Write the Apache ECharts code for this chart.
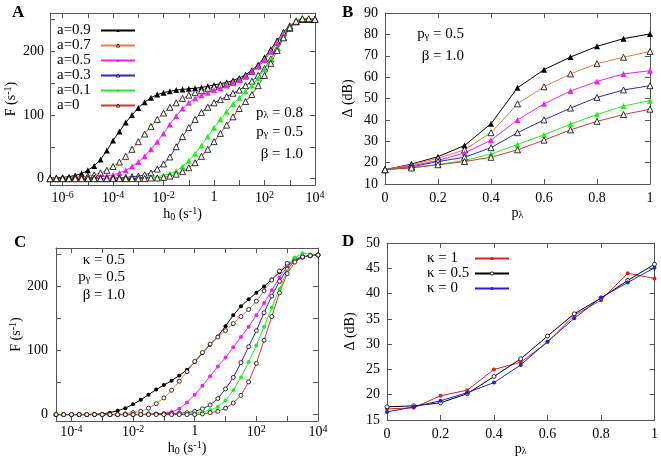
<!DOCTYPE html>
<html>
<head>
<meta charset="utf-8">
<script src="https://cdn.jsdelivr.net/npm/echarts@6/dist/echarts.min.js"></script>
<style>
  html, body { margin: 0; padding: 0; background: #fff; }
  #fig { width: 661px; height: 460px; }
</style>
</head>
<body>
<div id="fig"></div>
<script>
// panel A / C: x is log10(h0), steps of 0.25 decade
const hA = [-6.5,-6.25,-6,-5.75,-5.5,-5.25,-5,-4.75,-4.5,-4.25,-4,-3.75,-3.5,-3.25,-3,-2.75,-2.5,-2.25,-2,-1.75,-1.5,-1.25,-1,-0.75,-0.5,-0.25,0,0.25,0.5,0.75,1,1.25,1.5,1.75,2,2.25,2.5,2.75,3,3.25,3.5,3.75,4];
const fA09 = [1,1,2,3,5,8,13,20,30,44,60,74,88,100,111,120,127,132,135,137,139,140,141,142,143,145,147,149,151,154,158,163,170,179,190,203,217,230,240,247,250,250,250];
const fA07 = [0,0,1,1,2,3,4,6,9,13,19,26,35,46,58,70,82,93,103,112,119,126,131,135,138,141,144,147,149,152,156,161,168,177,188,201,215,229,240,247,250,250,250];
const fA05 = [0,0,0,0,0,1,1,2,3,4,6,9,13,19,26,35,46,58,71,85,98,110,119,126,131,135,139,142,146,150,155,161,168,176,186,199,213,227,239,247,250,250,250];
const fA03 = [0,0,0,0,0,0,0,0,0,0,1,1,2,3,4,6,9,15,23,34,50,66,80,93,104,112,119,124,129,134,139,146,153,162,173,188,205,222,236,246,250,250,250];
const fA01 = [0,0,0,0,0,0,0,0,0,0,0,0,0,0,1,1,2,3,5,8,12,19,28,39,52,66,80,93,105,117,127,137,146,158,172,188,206,224,239,249,252,251,250];
const fA00 = [0,0,0,0,0,0,0,0,0,0,0,0,0,0,0,0,1,1,2,4,7,11,17,25,35,46,58,71,84,97,110,121,132,146,162,181,201,221,237,247,251,251,250];

const hC = [-4.5,-4.25,-4,-3.75,-3.5,-3.25,-3,-2.75,-2.5,-2.25,-2,-1.75,-1.5,-1.25,-1,-0.75,-0.5,-0.25,0,0.25,0.5,0.75,1,1.25,1.5,1.75,2,2.25,2.5,2.75,3,3.25,3.5,3.75,4];
const fC09 = [0,0,0,0,0,1,1,3,6,10,16,23,31,39,46,53,61,70,82,96,109,122,138,155,169,180,190,200,211,222,233,241,246,248,249];
const fC07 = [0,0,0,0,0,0,0,0,0,1,3,5,10,17,26,38,52,67,83,97,110,121,131,142,153,164,177,193,210,224,236,243,246,248,249];
const fC05 = [0,0,0,0,0,0,0,0,0,0,0,0,0,1,2,4,9,19,31,45,60,75,89,105,121,137,155,174,194,214,231,242,247,248,249];
const fC03 = [0,0,0,0,0,0,0,0,0,0,0,0,1,1,1,2,2,3,5,9,15,25,40,58,81,106,131,159,185,208,227,240,246,248,249];
const fC01 = [0,0,0,0,0,0,0,0,0,0,0,0,0,0,0,0,1,1,2,4,7,12,22,38,58,82,108,137,167,196,224,245,252,250,249];
const fC00 = [0,0,0,0,0,0,0,0,0,0,0,0,0,0,0,0,0,0,0,1,3,5,10,18,30,51,80,116,153,190,220,238,246,248,249];

// panel B: Delta (dB) vs p_lambda
const pL = [0,0.1,0.2,0.3,0.4,0.5,0.6,0.7,0.8,0.9,1];
const dB09 = [16.7,19.3,22.8,28,38.2,55,63.5,69.4,74.4,78,80.2];
const dB07 = [16.7,19,22,26,34,47.5,55.5,61.5,66.3,69.3,72];
const dB05 = [16.7,18.5,21,24.5,30.5,40,47.5,53.5,58,61.5,63];
const dB03 = [16.7,18,20.5,22.5,27,34,40,45.5,50.5,54,56];
const dB01 = [16.7,17.8,19,21,24,28.5,33,38,42.5,46.5,49];
const dB00 = [16.7,17.5,19,20.5,22.5,26,30.5,35.3,39.3,42.5,45];

// panel D
const dDk1 = [17.2,17.4,19.8,20.9,25.0,26.4,30.4,35.7,38.7,44.0,43.0];
const dDk05 = [17.6,17.8,18.4,20.2,23.6,27.1,31.6,36.0,39.1,42.6,45.8];
const dDk0 = [16.6,17.6,18.8,20.4,22.4,25.9,30.5,35.1,39.2,42.2,45.1];

const logTicks = [-6,-5,-4,-3,-2,-1,0,1,2,3,4];
const logLabs = [-6,-4,-2,0,2,4];
const logTicksC = [-4,-3,-2,-1,0,1,2,3,4];
const logLabsC = [-4,-2,0,2,4];
const fTicks = [0,50,100,150,200,250];
const fLabs = [0,100,200];

const FONT = 'Liberation Serif';
const AX = '#555';
const RICH = {
    s: {fontSize: 10, fontFamily: FONT, color: '#000', verticalAlign: 'top', padding: [0, 0, 6, 0]},
    d: {fontSize: 10, fontFamily: FONT, color: '#000', verticalAlign: 'bottom', padding: [5, 0, 0, 0]}
};

let chart = echarts.init(document.getElementById('fig'));

function pair(xs, ys) {
    return xs.map(function (x, i) { return [x, ys[i]]; });
}

function logFmt(v) {
    return v === 0 ? '1' : '10{s|' + v + '}';
}

function axes(dim, g, o) {
    let main = {
        type: 'value', gridIndex: g, min: o.min, max: o.max,
        position: dim === 'x' ? 'bottom' : 'left',
        axisLine: {show: true, onZero: false, lineStyle: {color: AX, width: 1}},
        axisTick: {show: true, inside: true, length: 5, lineStyle: {color: AX}},
        axisLabel: {color: '#000', fontFamily: FONT, fontSize: 14, margin: o.margin, rich: RICH},
        splitLine: {show: false},
        name: o.name, nameLocation: 'middle', nameGap: o.gap,
        nameTextStyle: {color: '#000', fontFamily: FONT, fontSize: 14, rich: RICH}
    };
    if (o.interval) main.interval = o.interval;
    if (o.ticks) main.axisTick.customValues = o.ticks;
    if (o.labels) main.axisLabel.customValues = o.labels;
    if (o.fmt) main.axisLabel.formatter = o.fmt;
    let mirror = {
        type: 'value', gridIndex: g, min: o.min, max: o.max,
        position: dim === 'x' ? 'top' : 'right',
        axisLine: {show: true, onZero: false, lineStyle: {color: AX, width: 1}},
        axisTick: {show: true, inside: true, length: 5, lineStyle: {color: AX}},
        axisLabel: {show: false},
        splitLine: {show: false}
    };
    if (o.interval) mirror.interval = o.interval;
    if (o.ticks) mirror.axisTick.customValues = o.ticks;
    return [main, mirror];
}

function line(g, name, xs, ys, color, symbol, fill, size) {
    return {
        type: 'line', name: name, xAxisIndex: 2 * g, yAxisIndex: 2 * g,
        data: pair(xs, ys), symbol: symbol, symbolSize: size,
        lineStyle: {color: color, width: 1},
        itemStyle: fill === 'open'
            ? {color: '#fff', borderColor: '#000', borderWidth: 0.8}
            : {color: fill, borderWidth: 0},
        animation: false
    };
}

const C_BLK = '#000000', C_ORG = '#ee7a3a', C_MAG = '#ee22ee', C_BLU = '#2a2ad0', C_GRN = '#22ee22', C_RED = '#d23a2a';
const D_RED = '#e02020', D_BLU = '#2020d8';

let xA = axes('x', 0, {min: -6.5, max: 4, ticks: logTicks, labels: logLabs, fmt: logFmt, margin: 5,
    name: 'h{d|0} (s{s|-1})', gap: 18});
let yA = axes('y', 0, {min: -10, max: 260, ticks: fTicks, labels: fLabs, margin: 6,
    name: 'F (s{s|-1})', gap: 31});
let xB = axes('x', 1, {min: 0, max: 1, interval: 0.2, margin: 7, name: 'p{d|λ}', gap: 20});
let yB = axes('y', 1, {min: 10, max: 90, interval: 10, margin: 7, name: 'Δ (dB)', gap: 30});
let xC = axes('x', 2, {min: -4.5, max: 4, ticks: logTicksC, labels: logLabsC, fmt: logFmt, margin: 3,
    name: 'h{d|0} (s{s|-1})', gap: 15});
let yC = axes('y', 2, {min: -10, max: 260, ticks: fTicks, labels: fLabs, margin: 8,
    name: 'F (s{s|-1})', gap: 30});
let xD = axes('x', 3, {min: 0, max: 1, interval: 0.2, margin: 7, name: 'p{d|λ}', gap: 21});
let yD = axes('y', 3, {min: 15, max: 50, interval: 5, margin: 7, name: 'Δ (dB)', gap: 30});

function note(x, y, text, align) {
    return {
        type: 'text', x: x, y: y,
        style: {text: text, fill: '#000', fontFamily: FONT, fontSize: 15,
            textAlign: align, align: align, textVerticalAlign: 'middle', verticalAlign: 'middle', rich: RICH}
    };
}

function letter(x, y, t) {
    return {type: 'text', x: x, y: y,
        style: {text: t, fill: '#000', fontFamily: FONT, fontSize: 17, fontWeight: 'bold'}};
}

// legend text sits left of the line sample, left aligned in a fixed-width box
function legendText(w) {
    return {
        fontFamily: FONT, fontSize: 15, color: '#000', lineHeight: 14,
        rich: {t: {width: w, align: 'left', fontFamily: FONT, fontSize: 15, color: '#000', lineHeight: 14}}
    };
}

let option = {
    backgroundColor: '#fff',
    animation: false,
    grid: [
        {left: 50, top: 13, width: 265, height: 172},
        {left: 385, top: 13, width: 265, height: 171},
        {left: 56, top: 248, width: 262, height: 173},
        {left: 387, top: 243, width: 268, height: 177}
    ],
    xAxis: [xA[0], xA[1], xB[0], xB[1], xC[0], xC[1], xD[0], xD[1]],
    yAxis: [yA[0], yA[1], yB[0], yB[1], yC[0], yC[1], yD[0], yD[1]],
    legend: [
        {
            orient: 'vertical', left: 52, top: 18, align: 'right',
            itemWidth: 34, itemHeight: 4, itemGap: 0,
            itemStyle: {borderWidth: 0.8},
            formatter: '{t|{name}}',
            textStyle: legendText(39),
            data: ['a=0.9', 'a=0.7', 'a=0.5', 'a=0.3', 'a=0.1', 'a=0']
        },
        {
            orient: 'vertical', left: 422, top: 246, align: 'right',
            itemWidth: 34, itemHeight: 4, itemGap: 0,
            itemStyle: {borderWidth: 0.8},
            formatter: '{t|{name}}',
            textStyle: legendText(43),
            data: ['κ = 1', 'κ = 0.5', 'κ = 0']
        }
    ],
    graphic: [
        letter(12, 4, 'A'), letter(342, 4, 'B'), letter(14, 234, 'C'), letter(342, 233, 'D'),
        note(303, 113, 'p{d|λ} = 0.8', 'right'),
        note(303, 132, 'p{d|γ} = 0.5', 'right'),
        note(303, 154, 'β = 1.0', 'right'),
        note(464, 34, 'p{d|γ} = 0.5', 'right'),
        note(464, 56, 'β = 1.0', 'right'),
        note(125, 260, 'κ = 0.5', 'right'),
        note(125, 277, 'p{d|γ} = 0.5', 'right'),
        note(125, 295, 'β = 1.0', 'right')
    ],
    series: [
        line(0, 'a=0.9', hA, fA09, C_BLK, 'triangle', C_BLK, 6),
        line(0, 'a=0.7', hA, fA07, C_ORG, 'triangle', 'open', 6),
        line(0, 'a=0.5', hA, fA05, C_MAG, 'triangle', C_MAG, 6),
        line(0, 'a=0.3', hA, fA03, C_BLU, 'triangle', 'open', 6),
        line(0, 'a=0.1', hA, fA01, C_GRN, 'triangle', C_GRN, 6),
        line(0, 'a=0', hA, fA00, C_RED, 'triangle', 'open', 6),

        line(1, 'B a=0.9', pL, dB09, C_BLK, 'triangle', C_BLK, 6),
        line(1, 'B a=0.7', pL, dB07, C_ORG, 'triangle', 'open', 6),
        line(1, 'B a=0.5', pL, dB05, C_MAG, 'triangle', C_MAG, 6),
        line(1, 'B a=0.3', pL, dB03, C_BLU, 'triangle', 'open', 6),
        line(1, 'B a=0.1', pL, dB01, C_GRN, 'triangle', C_GRN, 6),
        line(1, 'B a=0', pL, dB00, C_RED, 'triangle', 'open', 6),

        line(2, 'C a=0.9', hC, fC09, C_BLK, 'circle', C_BLK, 4),
        line(2, 'C a=0.7', hC, fC07, C_ORG, 'circle', 'open', 4),
        line(2, 'C a=0.5', hC, fC05, C_MAG, 'circle', C_MAG, 4),
        line(2, 'C a=0.3', hC, fC03, C_BLU, 'circle', 'open', 4),
        line(2, 'C a=0.1', hC, fC01, C_GRN, 'circle', C_GRN, 4),
        line(2, 'C a=0', hC, fC00, C_RED, 'circle', 'open', 4),

        line(3, 'κ = 1', pL, dDk1, D_RED, 'circle', D_RED, 4),
        line(3, 'κ = 0.5', pL, dDk05, C_BLK, 'circle', 'open', 4),
        line(3, 'κ = 0', pL, dDk0, D_BLU, 'circle', D_BLU, 4)
    ]
};

chart.setOption(option);
window.addEventListener('resize', () => {
    chart.resize();
});
</script>
</body>
</html>
